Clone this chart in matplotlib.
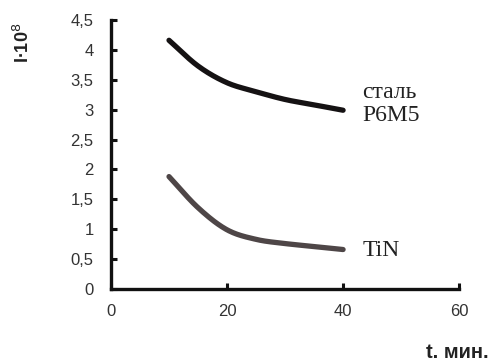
import numpy as np
import matplotlib
matplotlib.use("Agg")
import matplotlib.pyplot as plt
from matplotlib.ticker import FuncFormatter

# Data
t_min = [10, 15, 20, 25, 30, 35, 40]
steel_P6M5 = [4.16, 3.73, 3.45, 3.30, 3.17, 3.08, 2.99]
TiN = [1.88, 1.36, 0.99, 0.83, 0.76, 0.71, 0.66]

x_ticks = [0, 20, 40, 60]
y_ticks = [0, 0.5, 1, 1.5, 2, 2.5, 3, 3.5, 4, 4.5]


def smooth(x, y, n=30):
    """Catmull-Rom curve through the points (like Excel smoothed lines)."""
    x = np.asarray(x, float)
    y = np.asarray(y, float)
    px = np.concatenate([[2 * x[0] - x[1]], x, [2 * x[-1] - x[-2]]])
    py = np.concatenate([[2 * y[0] - y[1]], y, [2 * y[-1] - y[-2]]])
    xs, ys = [], []
    u = np.linspace(0, 1, n)
    for i in range(1, len(px) - 2):
        for p, out in ((px, xs), (py, ys)):
            p0, p1, p2, p3 = p[i - 1], p[i], p[i + 1], p[i + 2]
            out.append(0.5 * ((2 * p1) + (-p0 + p2) * u
                              + (2 * p0 - 5 * p1 + 4 * p2 - p3) * u ** 2
                              + (-p0 + 3 * p1 - 3 * p2 + p3) * u ** 3))
    return np.concatenate(xs), np.concatenate(ys)


plt.rcParams['font.family'] = ['Liberation Sans', 'DejaVu Sans']

fig = plt.figure(figsize=(4.9, 3.63), dpi=100)
ax = fig.add_axes([0.2265, 0.2039, 0.937 - 0.2265, 0.945 - 0.2039])

sx, sy = smooth(t_min, steel_P6M5)
ax.plot(sx, sy, color='#151213', lw=3.8, solid_capstyle='round')
tx, ty = smooth(t_min, TiN)
ax.plot(tx, ty, color='#4e4647', lw=3.8, solid_capstyle='round')

ax.set_xlim(0, 60)
ax.set_ylim(0, 4.5)
ax.set_xticks(x_ticks)
ax.set_yticks(y_ticks)
comma = FuncFormatter(lambda v, p: ('%g' % v).replace('.', ','))
ax.xaxis.set_major_formatter(comma)
ax.yaxis.set_major_formatter(comma)

for s in ('top', 'right'):
    ax.spines[s].set_visible(False)
for s in ('left', 'bottom'):
    ax.spines[s].set_linewidth(2.4)
    ax.spines[s].set_color('#111111')
    ax.spines[s].set_capstyle('projecting')

ax.tick_params(axis='both', direction='in', length=4, width=2.2,
               colors='#111111', labelcolor='#333333', labelsize=12)
ax.tick_params(axis='y', pad=12.5)
ax.tick_params(axis='x', pad=11)

# Series labels
ax.text(43.3, 3.09, 'сталь\nР6М5', fontsize=17, family='Liberation Serif',
        color='#222222', va='center', ha='left', linespacing=1.15)
ax.text(43.3, 0.65, 'TiN', fontsize=17, family='Liberation Serif',
        color='#222222', va='center', ha='left')

# Axis titles
fig.text(0.997, 0.014, 't. мин.', fontsize=14.5, fontweight='bold',
         ha='right', va='baseline', color='#222222')
fig.text(0.047, 0.882, 'I·10$^{8}$', fontsize=13, fontweight='bold',
         rotation=90, ha='center', va='center', color='#222222')

fig.savefig('out.png', dpi=100, facecolor='white')
